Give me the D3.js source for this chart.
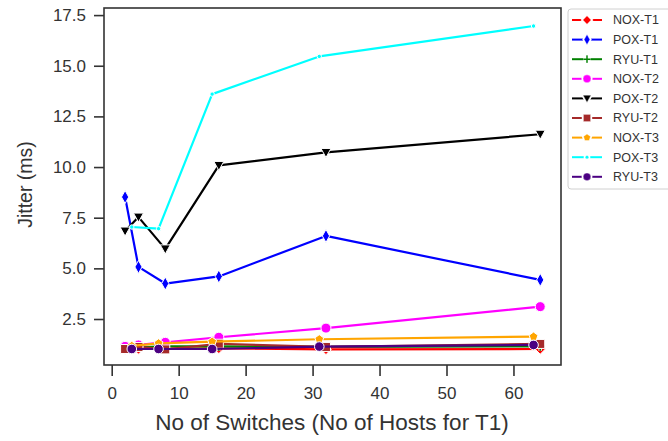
<!DOCTYPE html>
<html>
<head>
<meta charset="utf-8">
<script src="https://cdn.jsdelivr.net/npm/d3@7"></script>
<style>
  html, body { margin: 0; padding: 0; background: #fff; }
  svg { display: block; font-family: "Liberation Sans", Arial, sans-serif; }
</style>
</head>
<body>
<svg id="chart" width="668" height="441"></svg>
<script>
// ---- data ----
const xT1 = [2, 4, 8, 16, 32, 64];
const xT2 = [2, 4, 8, 16, 32, 64];
const xT3 = [3, 7, 15, 31, 63];

const noxT1 = [1.02, 1.02, 1.03, 1.05, 1.0, 1.02];
const poxT1 = [8.52, 5.07, 4.25, 4.6, 6.6, 4.43];
const ryuT1 = [1.05, 1.1, 1.15, 1.15, 1.12, 1.15];
const noxT2 = [1.15, 1.22, 1.35, 1.6, 2.05, 3.11];
const poxT2 = [6.84, 7.53, 5.96, 10.08, 10.72, 11.62];
const ryuT2 = [1.02, 1.12, 1.0, 1.28, 1.12, 1.27];
const noxT3 = [1.17, 1.3, 1.38, 1.5, 1.63];
const poxT3 = [7.04, 6.96, 13.6, 15.46, 16.96];
const ryuT3 = [1.02, 1.02, 1.02, 1.14, 1.22];

const seriesNames = ["NOX-T1", "POX-T1", "RYU-T1", "NOX-T2", "POX-T2", "RYU-T2", "NOX-T3", "POX-T3", "RYU-T3"];
const seriesX = [xT1, xT1, xT1, xT2, xT2, xT2, xT3, xT3, xT3];
const seriesY = [noxT1, poxT1, ryuT1, noxT2, poxT2, ryuT2, noxT3, poxT3, ryuT3];
const colors = ["#ff0000", "#0000ff", "#008000", "#ff00ff", "#000000", "#a52a2a", "#ffa500", "#00ffff", "#4b0082"];
const markers = ["diamond", "thin_diamond", "plus", "circle", "tri_down", "square", "pentagon", "point", "circle_small"];

const xTicks = [0, 10, 20, 30, 40, 50, 60];
const yTicks = [2.5, 5.0, 7.5, 10.0, 12.5, 15.0, 17.5];

// ---- layout ----
const L = 104, T = 8, R = 561, B = 365;
const svg = d3.select("#chart");
const x = d3.scaleLinear().domain([-1.15, 67.1]).range([L, R]);
const y = d3.scaleLinear().domain([0.23, 17.85]).range([B, T]);

function markerPath(type) {
  switch (type) {
    case "diamond": { const s = 5.2; return `M0,${-s}L${s},0L0,${s}L${-s},0Z`; }
    case "thin_diamond": return "M0,-6.5L3.6,0L0,6.5L-3.6,0Z";
    case "plus": return "M-4.5,0L4.5,0M0,-4.5L0,4.5";
    case "circle": return d3.symbol(d3.symbolCircle, Math.PI * 5 * 5)();
    case "tri_down": return "M-5,-4L5,-4L0,5Z";
    case "square": return "M-4.5,-4.5L4.5,-4.5L4.5,4.5L-4.5,4.5Z";
    case "pentagon": {
      const r = 4.6; let p = "";
      for (let i = 0; i < 5; i++) {
        const a = -Math.PI / 2 + i * 2 * Math.PI / 5;
        p += (i ? "L" : "M") + (r * Math.cos(a)).toFixed(2) + "," + (r * Math.sin(a)).toFixed(2);
      }
      return p + "Z";
    }
    case "point": return d3.symbol(d3.symbolCircle, Math.PI * 2.2 * 2.2)();
    case "circle_small": return d3.symbol(d3.symbolCircle, Math.PI * 4.8 * 4.8)();
  }
}

function drawMarker(g, type, color, edge) {
  if (type === "plus") {
    g.append("path").attr("d", markerPath(type)).attr("stroke", "#fff").attr("stroke-width", 3.5).attr("fill", "none");
    g.append("path").attr("d", markerPath(type)).attr("stroke", color).attr("stroke-width", 1.8).attr("fill", "none");
  } else {
    g.append("path").attr("d", markerPath(type)).attr("fill", color).attr("stroke", "#fff").attr("stroke-width", edge || 1);
  }
}

// x axis
const xAxis = svg.append("g").attr("transform", `translate(0,${B})`)
  .call(d3.axisBottom(x).tickValues(xTicks).tickFormat(d3.format("d")).tickSize(11).tickSizeOuter(0));
xAxis.select(".domain").remove();
xAxis.selectAll(".tick line").attr("stroke", "#333").attr("stroke-width", 1.6);
xAxis.selectAll(".tick text").attr("fill", "#333").attr("font-size", 17).attr("dy", "0.71em").attr("y", 22);

// y axis
const yAxis = svg.append("g").attr("transform", `translate(${L},0)`)
  .call(d3.axisLeft(y).tickValues(yTicks).tickFormat(d3.format(".1f")).tickSize(10).tickSizeOuter(0));
yAxis.select(".domain").remove();
yAxis.selectAll(".tick line").attr("stroke", "#333").attr("stroke-width", 1.6);
yAxis.selectAll(".tick text").attr("fill", "#333").attr("font-size", 17).attr("x", -18);

svg.append("rect").attr("x", L).attr("y", T).attr("width", R - L).attr("height", B - T)
  .attr("fill", "none").attr("stroke", "#333").attr("stroke-width", 1.6);

// axis labels
svg.append("text").attr("x", 332).attr("y", 430).attr("text-anchor", "middle")
  .attr("font-size", 22.5).attr("fill", "#333").text("No of Switches (No of Hosts for T1)");
svg.append("text").attr("transform", `translate(32,${(T + B) / 2 - 2}) rotate(-90)`).attr("text-anchor", "middle")
  .attr("font-size", 19.5).attr("fill", "#333").text("Jitter (ms)");

// series
const plot = svg.append("g");
const line = d3.line().x(d => x(d[0])).y(d => y(d[1]));
seriesNames.forEach((name, i) => {
  const pts = seriesX[i].map((xv, j) => [xv, seriesY[i][j]]);
  const g = plot.append("g");
  g.append("path").datum(pts).attr("d", line).attr("fill", "none")
    .attr("stroke", colors[i]).attr("stroke-width", 2.2).attr("stroke-linejoin", "round");
  pts.forEach(p => {
    const mg = g.append("g").attr("transform", `translate(${x(p[0])},${y(p[1])})`);
    drawMarker(mg, markers[i], colors[i]);
  });
});

// legend
const lg = svg.append("g");
lg.append("rect").attr("x", 568).attr("y", 9).attr("width", 110).attr("height", 180).attr("rx", 3)
  .attr("fill", "#fff").attr("stroke", "#d0d0d0").attr("stroke-width", 1);
seriesNames.forEach((name, i) => {
  const cy = 20 + i * 19.6;
  const g = lg.append("g");
  g.append("line").attr("x1", 572).attr("x2", 602).attr("y1", cy).attr("y2", cy)
    .attr("stroke", colors[i]).attr("stroke-width", 2);
  const mg = g.append("g").attr("transform", `translate(587,${cy}) scale(0.8)`);
  drawMarker(mg, markers[i], colors[i], 4);
  drawMarker(mg, markers[i], colors[i], 0.5);
  g.append("text").attr("x", 613).attr("y", cy).attr("dy", "0.35em").attr("font-size", 12.5)
    .attr("fill", "#333").text(name);
});
</script>
</body>
</html>
